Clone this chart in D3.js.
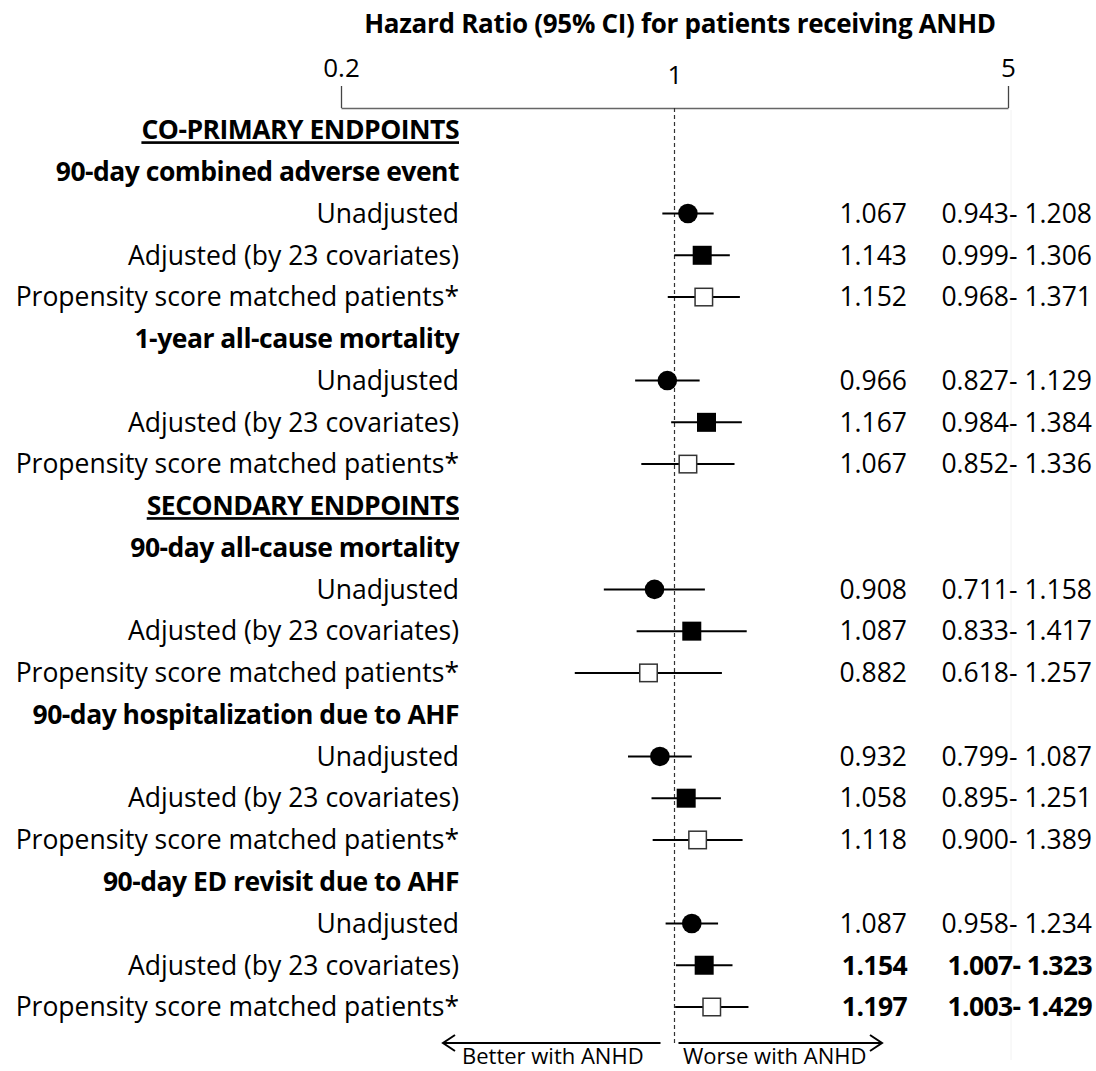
<!DOCTYPE html>
<html>
<head>
<meta charset="utf-8">
<script src="https://cdn.jsdelivr.net/npm/d3@7"></script>
<style>
  body { margin: 0; background: #fff; }
  text { font-family: "Open Sans", Lato, sans-serif; fill: #000; }
</style>
</head>
<body>
<div id="chart"></div>
<script>
const sections = ["CO-PRIMARY ENDPOINTS", "SECONDARY ENDPOINTS"]
const groups = [
  "90-day combined adverse event",
  "1-year all-cause mortality",
  "90-day all-cause mortality",
  "90-day hospitalization due to AHF",
  "90-day ED revisit due to AHF"
]
const groupSection = [0, 0, 1, 1, 1]
const methods = ["Unadjusted", "Adjusted (by 23 covariates)", "Propensity score matched patients*"]
const markers = ["circle", "square", "open"]
const hr = [1.067, 1.143, 1.152, 0.966, 1.167, 1.067, 0.908, 1.087, 0.882, 0.932, 1.058, 1.118, 1.087, 1.154, 1.197]
const lower = [0.943, 0.999, 0.968, 0.827, 0.984, 0.852, 0.711, 0.833, 0.618, 0.799, 0.895, 0.900, 0.958, 1.007, 1.003]
const upper = [1.208, 1.306, 1.371, 1.129, 1.384, 1.336, 1.158, 1.417, 1.257, 1.087, 1.251, 1.389, 1.234, 1.323, 1.429]
const tickValues = [0.2, 1, 5]

const width = 1096, height = 1071
const fs = 26.5

// build row list
let rows = []
let lastSection = -1
groups.forEach((g, gi) => {
  if (groupSection[gi] !== lastSection) {
    rows.push({ type: "section", label: sections[groupSection[gi]] })
    lastSection = groupSection[gi]
  }
  rows.push({ type: "group", label: g })
  methods.forEach((m, mi) => {
    let i = gi * 3 + mi
    rows.push({ type: "est", label: m, marker: markers[mi], hr: hr[i], lo: lower[i], hi: upper[i] })
  })
})

let x = d3.scaleLog().domain([0.2, 5]).range([341, 1008])
let y = d3.scaleLinear().domain([0, rows.length - 1]).range([130, 1007])

let svg = d3.select("#chart").append("svg")
  .attr("width", width)
  .attr("height", height)

// faint right border
svg.append("line")
  .attr("x1", 1011).attr("x2", 1011)
  .attr("y1", 110).attr("y2", 1060)
  .attr("stroke", "#f2f2f2")

// title
svg.append("text")
  .attr("x", 680).attr("y", 24)
  .attr("dy", "0.35em")
  .attr("text-anchor", "middle")
  .attr("font-size", 26)
  .attr("font-weight", "bold")
  .attr("letter-spacing", -0.3)
  .text("Hazard Ratio (95% CI) for patients receiving ANHD")

// top axis
let axis = svg.append("g")
  .attr("transform", "translate(0,108)")
  .call(d3.axisTop(x).tickValues(tickValues).tickSize(22).tickSizeOuter(0).tickFormat(d3.format("")))
axis.select(".domain").attr("stroke", "#666").attr("stroke-width", 1.5)
axis.selectAll(".tick line").attr("stroke", "#444").attr("stroke-width", 1.3)
  .filter(d => d === 1).remove()
axis.selectAll(".tick text")
  .attr("font-size", 26)
  .attr("fill", "#000")
  .attr("y", d => d === 1 ? -24 : -31)

// reference line
svg.append("line")
  .attr("x1", x(1)).attr("x2", x(1))
  .attr("y1", 108).attr("y2", 1046)
  .attr("stroke", "#333")
  .attr("stroke-width", 1.2)
  .attr("stroke-dasharray", "4,3")

// labels
let labels = svg.append("g")
labels.selectAll("text").data(rows).enter().append("text")
  .attr("x", 459)
  .attr("y", (d, i) => y(i))
  .attr("dy", "0.35em")
  .attr("text-anchor", "end")
  .attr("font-size", fs)
  .attr("font-weight", d => d.type === "est" ? "normal" : "bold")
  .attr("letter-spacing", d => d.type === "est" ? 0 : -0.5)
  .attr("text-decoration", d => d.type === "section" ? "underline" : null)
  .text(d => d.label)

let est = rows.map((d, i) => Object.assign({ i }, d)).filter(d => d.type === "est")

let fg = svg.append("g")
fg.selectAll(".ci").data(est).enter().append("line")
  .attr("class", "ci")
  .attr("x1", d => x(d.lo)).attr("x2", d => x(d.hi))
  .attr("y1", d => y(d.i)).attr("y2", d => y(d.i))
  .attr("stroke", "#000").attr("stroke-width", 2)

est.forEach(d => {
  if (d.marker === "circle") {
    fg.append("circle")
      .attr("cx", x(d.hr)).attr("cy", y(d.i)).attr("r", 9.8)
      .attr("fill", "#000")
  } else {
    let s = d.marker === "square" ? 19 : 17.5
    fg.append("rect")
      .attr("x", x(d.hr) - s / 2).attr("y", y(d.i) - s / 2)
      .attr("width", s).attr("height", s)
      .attr("fill", d.marker === "square" ? "#000" : "#fff")
      .attr("stroke", d.marker === "square" ? "none" : "#333")
      .attr("stroke-width", 1.5)
  }
})

// values
let fmt = d3.format(".3f")
let vals = svg.append("g")
vals.selectAll(".hr").data(est).enter().append("text")
  .attr("x", 907).attr("y", d => y(d.i)).attr("dy", "0.35em")
  .attr("text-anchor", "end")
  .attr("font-size", fs)
  .attr("font-weight", d => d.lo > 1 ? "bold" : "normal")
  .attr("letter-spacing", d => d.lo > 1 ? -0.6 : 0)
  .text(d => fmt(d.hr))
vals.selectAll(".ci-text").data(est).enter().append("text")
  .attr("x", 1092).attr("y", d => y(d.i)).attr("dy", "0.35em")
  .attr("text-anchor", "end")
  .attr("font-size", fs)
  .attr("font-weight", d => d.lo > 1 ? "bold" : "normal")
  .attr("letter-spacing", d => d.lo > 1 ? -0.6 : 0)
  .text(d => fmt(d.lo) + "- " + fmt(d.hi))

// bottom arrows
let arrows = svg.append("g").attr("stroke", "#000").attr("stroke-width", 2).attr("fill", "none")
let ay = 1043
arrows.append("line").attr("x1", x(1) - 14).attr("x2", 443).attr("y1", ay).attr("y2", ay)
arrows.append("path").attr("d", `M${455},${ay - 8}L${443},${ay}L${455},${ay + 8}`)
arrows.append("line").attr("x1", x(1) + 4).attr("x2", 882).attr("y1", ay).attr("y2", ay)
arrows.append("path").attr("d", `M${870},${ay - 8}L${882},${ay}L${870},${ay + 8}`)

svg.append("text")
  .attr("x", 462).attr("y", 1064)
  .attr("font-size", 22)
  .text("Better with ANHD")
svg.append("text")
  .attr("x", 683).attr("y", 1064)
  .attr("font-size", 22)
  .text("Worse with ANHD")
</script>
</body>
</html>
